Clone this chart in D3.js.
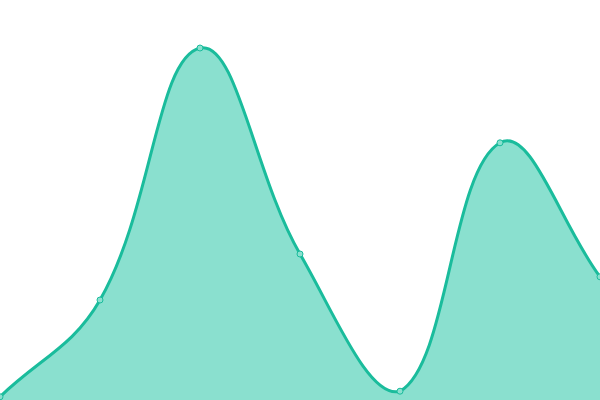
<!DOCTYPE html>
<html lang="en">
<head>
    <meta charset="UTF-8">
    <script src="https://d3js.org/d3.v7.min.js"></script>
    <title>Area chart</title>
    <style>
        body { margin: 0; background: #fff; }
    </style>
</head>
<body>
    <script>
        // chart values
        var labels = ["A", "B", "C", "D", "E", "F", "G"];
        var values = [0.8, 25, 88, 36.5, 2.2, 64.3, 30.8];

        var width = 600, height = 400;
        var svg = d3.select("body").append("svg").attr("width", width).attr("height", height);

        var x = d3.scalePoint().domain(labels).range([0, width]);
        var y = d3.scaleLinear().domain([0, 100]).range([height, 0]);

        // spline with distance-weighted tension (0.4), control points kept inside the plot
        function SplineCurve(context) { this._context = context; }
        SplineCurve.prototype = {
            areaStart: function() { this._line = 0; },
            areaEnd: function() { this._line = NaN; },
            lineStart: function() { this._x = []; this._y = []; },
            point: function(px, py) { this._x.push(+px); this._y.push(+py); },
            lineEnd: function() {
                var xs = this._x, ys = this._y, n = xs.length, t = 0.4;
                var cap = (v, lo, hi) => Math.max(lo, Math.min(hi, v));
                if (n) {
                    this._line ? this._context.lineTo(xs[0], ys[0]) : this._context.moveTo(xs[0], ys[0]);
                    var cp = [];
                    for (var i = 0; i < n; i++) {
                        var p = Math.max(i - 1, 0), q = Math.min(i + 1, n - 1);
                        var d01 = Math.hypot(xs[i] - xs[p], ys[i] - ys[p]);
                        var d12 = Math.hypot(xs[q] - xs[i], ys[q] - ys[i]);
                        var s01 = d01 / (d01 + d12) || 0, s12 = d12 / (d01 + d12) || 0;
                        var fa = t * s01, fb = t * s12;
                        var dx = xs[q] - xs[p], dy = ys[q] - ys[p];
                        cp.push({
                            x1: cap(xs[i] - fa * dx, 0, width), y1: cap(ys[i] - fa * dy, 0, height),
                            x2: cap(xs[i] + fb * dx, 0, width), y2: cap(ys[i] + fb * dy, 0, height)
                        });
                    }
                    for (var j = 1; j < n; j++) {
                        this._context.bezierCurveTo(cp[j - 1].x2, cp[j - 1].y2, cp[j].x1, cp[j].y1, xs[j], ys[j]);
                    }
                }
                if (this._line || (this._line !== 0 && n === 1)) this._context.closePath();
                this._line = 1 - this._line;
                this._x = this._y = null;
            }
        };
        var curve = function(context) { return new SplineCurve(context); };

        var area = d3.area()
            .x((d, i) => x(labels[i]))
            .y0(height)
            .y1(d => y(d))
            .curve(curve);

        var line = d3.line()
            .x((d, i) => x(labels[i]))
            .y(d => y(d))
            .curve(curve);

        svg.append("path").datum(values).attr("d", area)
            .style("fill", "#8ae0cf");

        svg.append("path").datum(values).attr("d", line)
            .style("fill", "none")
            .style("stroke", "#1abc9c")
            .style("stroke-width", 3);

        svg.selectAll("circle").data(values).join("circle")
            .attr("cx", (d, i) => x(labels[i]))
            .attr("cy", d => y(d))
            .attr("r", 3)
            .style("fill", "#8ae0cf")
            .style("stroke", "#1abc9c")
            .style("stroke-width", 1);
    </script>
</body>
</html>
